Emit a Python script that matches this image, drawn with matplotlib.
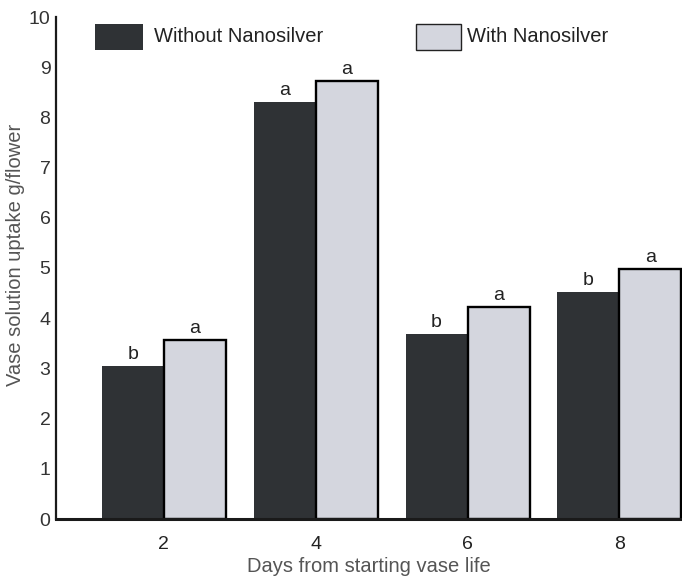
import matplotlib
matplotlib.use("Agg")
import matplotlib.pyplot as plt
from matplotlib.patches import Rectangle

plt.rcParams['font.family'] = ['Liberation Sans', 'DejaVu Sans']

# Data
days = ["2", "4", "6", "8"]
without_nano = [3.04, 8.31, 3.68, 4.52]
with_nano = [3.56, 8.72, 4.22, 4.99]
letters_without = ["b", "a", "b", "b"]
letters_with = ["a", "a", "a", "a"]
series_names = ["Without Nanosilver", "With Nanosilver"]

dark = "#2f3235"
light = "#d4d6de"
text_col = "#333333"

fig = plt.figure(figsize=(6.82, 5.78), dpi=100)
W, H = 682, 578
ax = fig.add_axes([56 / W, 59 / H, (682 - 56) / W, (519 - 17) / H])

centers = list(range(len(days)))
w = 0.408
ax.bar([c - w / 2 for c in centers], without_nano, width=w, color=dark,
       edgecolor="none", zorder=2)
ax.bar([c + w / 2 for c in centers], with_nano, width=w, color=light,
       edgecolor="black", linewidth=1.7, zorder=2, clip_on=False)

for c, v, t in zip(centers, without_nano, letters_without):
    ax.annotate(t, (c - w / 2, v), xytext=(0, 5), textcoords="offset points",
                ha="center", va="baseline", fontsize=14, color="#222222")
for c, v, t in zip(centers, with_nano, letters_with):
    ax.annotate(t, (c + w / 2, v), xytext=(0, 5), textcoords="offset points",
                ha="center", va="baseline", fontsize=14, color="#222222")

ax.set_xlim(-0.7105, 3.412)
ax.set_ylim(0, 10)
ax.set_yticks(range(0, 11))
ax.tick_params(axis="y", length=0, pad=4, labelsize=14, labelcolor=text_col)

ax.set_xticks(centers)
ax.set_xticklabels(days)
ax.tick_params(axis="x", length=0, pad=12, labelsize=14, labelcolor="#222222")

for s in ["top", "right"]:
    ax.spines[s].set_visible(False)
ax.spines["left"].set_linewidth(1.6)
ax.spines["left"].set_color("#1a1a1a")
ax.spines["bottom"].set_linewidth(2.2)
ax.spines["bottom"].set_color("#1a1a1a")

ax.set_xlabel("Days from starting vase life", fontsize=14.5, color="#555555")
ax.xaxis.set_label_coords(0.5, -(567 - 519) / 502)
ax.xaxis.label.set_va("center")
ax.set_ylabel("Vase solution uptake g/flower", fontsize=14.5, color="#555555")
ax.yaxis.set_label_coords(-(56 - 25) / 626, 0.527)

# legend drawn in figure pixels
def fx(px):
    return px / W

def fy(py):
    return 1 - py / H

fig.patches.append(Rectangle((fx(95), fy(50)), fx(143) - fx(95), fy(24) - fy(50),
                             transform=fig.transFigure, facecolor=dark,
                             edgecolor="none", figure=fig))
fig.text(fx(154), fy(37), series_names[0], fontsize=14.5, color="#222222",
         va="center", ha="left")
fig.patches.append(Rectangle((fx(416), fy(50)), fx(461) - fx(416), fy(24) - fy(50),
                             transform=fig.transFigure, facecolor=light,
                             edgecolor="#222222", linewidth=1.0, figure=fig))
fig.text(fx(467), fy(37), series_names[1], fontsize=14.5, color="#222222",
         va="center", ha="left")

fig.savefig("out.png", dpi=100)
